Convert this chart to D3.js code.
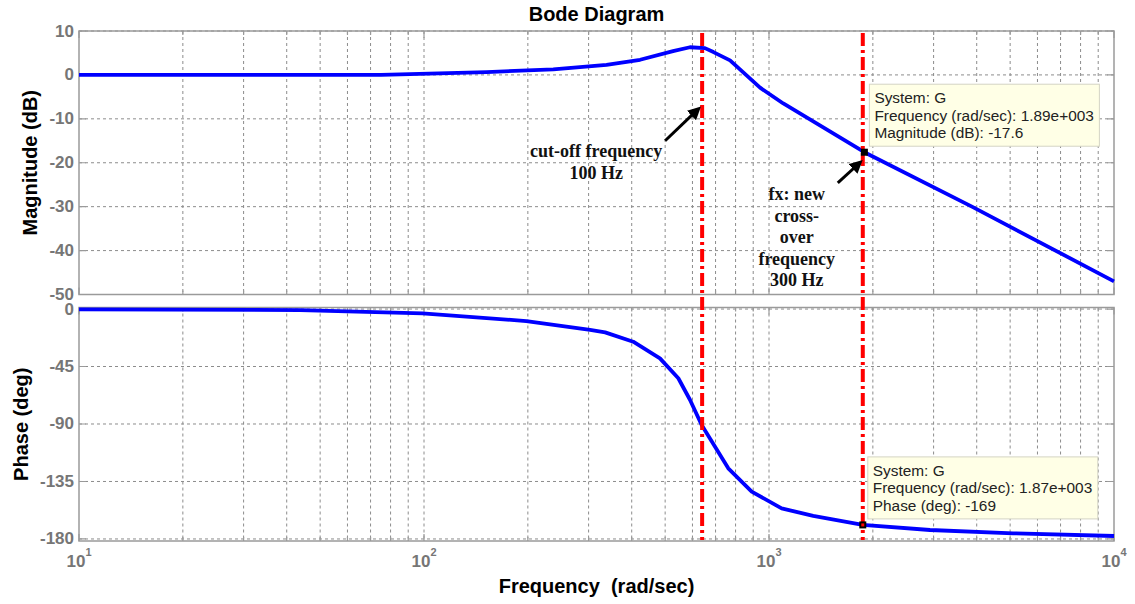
<!DOCTYPE html>
<html>
<head>
<meta charset="utf-8">
<title>Bode Diagram</title>
<script src="https://cdn.jsdelivr.net/npm/d3@7"></script>
<style>
  body { margin: 0; background: #fff; }
  svg { display: block; font-family: Arial, "Liberation Sans", sans-serif; }
</style>
</head>
<body>
<svg id="bode"></svg>
<script>
// values
const magFreq = [10, 40, 75, 97, 152, 237, 338, 423, 527, 590, 652, 690, 771, 861, 942, 1100, 1890, 3874, 10000];
const magDb = [0, 0, 0, 0.25, 0.65, 1.25, 2.3, 3.45, 5.4, 6.3, 6.1, 5.2, 3.3, -0.1, -2.9, -6.5, -17.6, -30, -47];

const phaseFreq = [10, 43.7, 99, 198, 303, 335, 404, 483, 546, 590, 638, 762, 891, 1088, 1343, 1870, 2929, 5105, 10000];
const phaseDeg = [-0.2, -0.8, -3.4, -9.4, -16.4, -18.3, -25.6, -38.6, -54.2, -71, -90.8, -124.7, -143, -156, -162, -169, -173, -175.6, -177.7];

const magTicks = [10, 0, -10, -20, -30, -40, -50];
const phaseTicks = [0, -45, -90, -135, -180];
const decadeExponents = [1, 2, 3, 4];

// red dash-dot lines: cut-off (100 Hz) and cross-over (300 Hz), in rad/s
const guideFreqs = [640, 1870];

const dataTips = [
  { panel: "mag", freq: 1890, value: -17.6,
    lines: ["System: G", "Frequency (rad/sec): 1.89e+003", "Magnitude (dB): -17.6"] },
  { panel: "phase", freq: 1870, value: -169,
    lines: ["System: G", "Frequency (rad/sec): 1.87e+003", "Phase (deg): -169"] },
];

const cutoffLabel = ["cut-off frequency", "100 Hz"];
const crossoverLabel = ["fx: new", "cross-", "over", "frequency", "300 Hz"];

const width = 1135, height = 604;
const left = 79, right = 1114;

const svg = d3.select("#bode").attr("width", width).attr("height", height);

const x = d3.scaleLog().domain([10, 1e4]).range([left, right]);
const yMag = d3.scaleLinear().domain([-50, 10]).range([294.5, 31]);
const yPhase = d3.scaleLinear().domain([-181.6, 1.2]).range([541, 307.5]);

const gridColor = "#8c8c8c";
const boxColor = "#9a9a9a";
const tickLabelColor = "#767676";

// arrow head
svg.append("defs")
  .append("marker")
  .attr("id", "arrow")
  .attr("viewBox", "0 0 10 10")
  .attr("refX", 7)
  .attr("refY", 5)
  .attr("markerWidth", 4.4)
  .attr("markerHeight", 4.4)
  .attr("orient", "auto")
  .append("path")
  .attr("d", "M0,0 L10,5 L0,10 z")
  .attr("fill", "#000");

function drawPanel(y, ticks) {
  const g = svg.append("g");
  const [y0, y1] = y.range(); // bottom, top

  // vertical grid at every log tick
  const freqTicks = x.ticks().filter((f) => f > 10 && f < 1e4);
  g.selectAll(".vgrid")
    .data(freqTicks)
    .join("line")
    .attr("x1", (d) => x(d))
    .attr("x2", (d) => x(d))
    .attr("y1", y1)
    .attr("y2", y0)
    .attr("stroke", gridColor)
    .attr("stroke-width", 1)
    .attr("stroke-dasharray", "3,3");

  g.selectAll(".hgrid")
    .data(ticks)
    .join("line")
    .attr("x1", left)
    .attr("x2", right)
    .attr("y1", (d) => y(d))
    .attr("y2", (d) => y(d))
    .attr("stroke", gridColor)
    .attr("stroke-width", 1)
    .attr("stroke-dasharray", "3,3");

  // tick marks inside the box
  const isMajor = (f) => Math.abs(Math.log10(f) - Math.round(Math.log10(f))) < 1e-6;
  g.selectAll(".xtick")
    .data(x.ticks())
    .join("path")
    .attr("d", (d) => {
      const len = isMajor(d) ? 7 : 4;
      return `M${x(d)},${y0}v${-len}M${x(d)},${y1}v${len}`;
    })
    .attr("stroke", boxColor)
    .attr("stroke-width", 1.2);

  g.selectAll(".ytick")
    .data(ticks)
    .join("path")
    .attr("d", (d) => `M${left},${y(d)}h7M${right},${y(d)}h-7`)
    .attr("stroke", boxColor)
    .attr("stroke-width", 1.2);

  g.append("rect")
    .attr("x", left)
    .attr("y", y1)
    .attr("width", right - left)
    .attr("height", y0 - y1)
    .attr("fill", "none")
    .attr("stroke", boxColor)
    .attr("stroke-width", 1.5);

  g.selectAll(".ylabel")
    .data(ticks)
    .join("text")
    .attr("x", left - 5)
    .attr("y", (d) => y(d))
    .attr("text-anchor", "end")
    .attr("dominant-baseline", "central")
    .attr("font-size", 17)
    .attr("font-weight", "bold")
    .attr("fill", tickLabelColor)
    .text((d) => d);

  return g;
}

drawPanel(yMag, magTicks);
drawPanel(yPhase, phaseTicks);

// frequency decade labels 10^n
const xLabels = svg.selectAll(".xlabel")
  .data(decadeExponents)
  .join("text")
  .attr("x", (d) => x(Math.pow(10, d)))
  .attr("y", 567)
  .attr("text-anchor", "middle")
  .attr("font-size", 17)
  .attr("font-weight", "bold")
  .attr("fill", tickLabelColor);
xLabels.append("tspan").text("10");
xLabels.append("tspan")
  .attr("dy", -11)
  .attr("font-size", 11)
  .text((d) => d);

// curves
const line = (yScale) =>
  d3.line()
    .x((d) => x(d[0]))
    .y((d) => yScale(d[1]));

svg.append("path")
  .datum(d3.zip(magFreq, magDb))
  .attr("d", line(yMag))
  .attr("fill", "none")
  .attr("stroke", "#0000ff")
  .attr("stroke-width", 3.8)
  .attr("stroke-linejoin", "round");

svg.append("path")
  .datum(d3.zip(phaseFreq, phaseDeg))
  .attr("d", line(yPhase))
  .attr("fill", "none")
  .attr("stroke", "#0000ff")
  .attr("stroke-width", 3.8)
  .attr("stroke-linejoin", "round");

// red dash-dot guide lines through both panels
svg.selectAll(".guide")
  .data(guideFreqs)
  .join("line")
  .attr("x1", (d) => x(d))
  .attr("x2", (d) => x(d))
  .attr("y1", 33)
  .attr("y2", 540)
  .attr("stroke", "#ff0000")
  .attr("stroke-width", 4)
  .attr("stroke-dasharray", "13,4,3,4");

// data tips
dataTips.forEach((tip) => {
  const yScale = tip.panel === "mag" ? yMag : yPhase;
  const mx = x(tip.freq);
  const my = yScale(tip.value);
  const boxX = mx + 5;
  const boxY = my - 68;

  svg.append("rect")
    .attr("x", boxX)
    .attr("y", boxY)
    .attr("width", 230)
    .attr("height", 62)
    .attr("fill", "#ffffe6")
    .attr("stroke", "#d4d4c4")
    .attr("stroke-width", 1);

  svg.append("g")
    .selectAll("text")
    .data(tip.lines)
    .join("text")
    .attr("x", boxX + 5)
    .attr("y", (d, i) => boxY + 19 + i * 17.3)
    .attr("font-size", 15.4)
    .attr("fill", "#222")
    .text((d) => d);

  svg.append("rect")
    .attr("x", mx - 3.5)
    .attr("y", my - 3.5)
    .attr("width", 7)
    .attr("height", 7)
    .attr("fill", "#000");
  svg.append("rect")
    .attr("x", mx - 1.5)
    .attr("y", my - 1.5)
    .attr("width", 3)
    .attr("height", 3)
    .attr("fill", tip.panel === "mag" ? "#000" : "#ff0000");
});

// annotations
const serif = '"Liberation Serif", "Times New Roman", serif';
const cutX = x(guideFreqs[0]);
const crossX = x(guideFreqs[1]);

svg.append("g")
  .selectAll("text")
  .data(cutoffLabel)
  .join("text")
  .attr("x", cutX - 106)
  .attr("y", (d, i) => yMag(-18.7) + i * 21.5)
  .attr("text-anchor", "middle")
  .attr("font-family", serif)
  .attr("font-weight", "bold")
  .attr("font-size", 18)
  .attr("fill", "#111")
  .text((d) => d);

svg.append("g")
  .selectAll("text")
  .data(crossoverLabel)
  .join("text")
  .attr("x", crossX - 66)
  .attr("y", (d, i) => yMag(-28.5) + i * 21.5)
  .attr("text-anchor", "middle")
  .attr("font-family", serif)
  .attr("font-weight", "bold")
  .attr("font-size", 18)
  .attr("fill", "#111")
  .text((d) => d);

const arrows = [
  { x1: cutX - 37, y1: yMag(-15), x2: cutX - 4, y2: yMag(-7.8) },
  { x1: crossX - 25, y1: yMag(-24.6), x2: crossX - 3, y2: yMag(-20) },
];
svg.selectAll(".arrow")
  .data(arrows)
  .join("line")
  .attr("x1", (d) => d.x1)
  .attr("y1", (d) => d.y1)
  .attr("x2", (d) => d.x2)
  .attr("y2", (d) => d.y2)
  .attr("stroke", "#000")
  .attr("stroke-width", 3)
  .attr("marker-end", "url(#arrow)");

// titles
svg.append("text")
  .attr("x", (left + right) / 2)
  .attr("y", 21)
  .attr("text-anchor", "middle")
  .attr("font-size", 20)
  .attr("font-weight", "bold")
  .text("Bode Diagram");

svg.append("text")
  .attr("x", (left + right) / 2)
  .attr("y", 593)
  .attr("text-anchor", "middle")
  .attr("font-size", 20)
  .attr("font-weight", "bold")
  .style("white-space", "pre")
  .text("Frequency  (rad/sec)");

svg.append("text")
  .attr("transform", `translate(30, ${(yMag.range()[0] + yMag.range()[1]) / 2}) rotate(-90)`)
  .attr("text-anchor", "middle")
  .attr("dominant-baseline", "central")
  .attr("font-size", 20)
  .attr("font-weight", "bold")
  .text("Magnitude (dB)");

svg.append("text")
  .attr("transform", `translate(21, ${(yPhase.range()[0] + yPhase.range()[1]) / 2}) rotate(-90)`)
  .attr("text-anchor", "middle")
  .attr("dominant-baseline", "central")
  .attr("font-size", 20)
  .attr("font-weight", "bold")
  .text("Phase (deg)");
</script>
</body>
</html>
